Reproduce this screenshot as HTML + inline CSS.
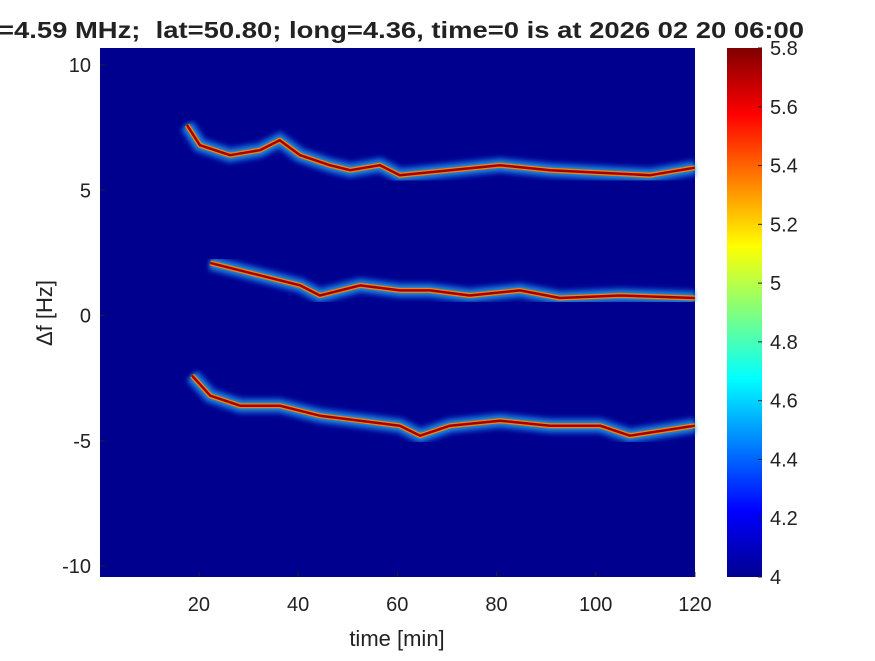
<!DOCTYPE html>
<html><head><meta charset="utf-8">
<style>
body{margin:0;background:#fff;width:875px;height:656px;overflow:hidden;font-family:"Liberation Sans",Arial,sans-serif}
svg text{font-family:"Liberation Sans",Arial,sans-serif}
</style></head>
<body>
<svg id="chart" width="875" height="656">
<defs>
<linearGradient id="jet" x1="0" y1="1" x2="0" y2="0">
<stop offset="0" stop-color="#00008f"/>
<stop offset="0.125" stop-color="#0000ff"/>
<stop offset="0.375" stop-color="#00ffff"/>
<stop offset="0.625" stop-color="#ffff00"/>
<stop offset="0.875" stop-color="#ff0000"/>
<stop offset="1" stop-color="#800000"/>
</linearGradient>
<filter id="blur"><feGaussianBlur stdDeviation="2.5"/></filter>
</defs>
<text x="-2" y="38" font-size="23" font-weight="bold" fill="#222" textLength="806" lengthAdjust="spacingAndGlyphs" xml:space="preserve">=4.59 MHz;  lat=50.80; long=4.36, time=0 is at 2026 02 20 06:00</text>
<rect x="100" y="48" width="595" height="529" fill="#00008f"/>
<g id="traces"></g>
<g id="axes"></g>
<rect x="727" y="48" width="35" height="529" fill="url(#jet)"/>
<g id="cbaxis"></g>
<text x="397" y="646" font-size="22" text-anchor="middle" fill="#222">time [min]</text>
<text transform="translate(52,313) rotate(-90)" font-size="22" text-anchor="middle" fill="#222">Δf [Hz]</text>
</svg>
<script>
const topTime=[17.6,20.2,26.3,32.3,36.3,40.4,46.4,50.5,56.5,60.5,70.6,80.7,90.8,100.9,111,120];
const topFreq=[7.6,6.8,6.4,6.6,7.0,6.4,6.0,5.8,6.0,5.6,5.8,6.0,5.8,5.7,5.6,5.9];
const midTime=[22.3,30.3,40.4,44.4,52.5,60.5,66.6,74.6,84.7,92.8,104.9,120];
const midFreq=[2.1,1.7,1.2,0.8,1.2,1.0,1.0,0.8,1.0,0.7,0.8,0.7];
const botTime=[18.6,22.3,28.3,36.3,44.4,52.5,60.5,64.6,70.6,80.7,90.8,100.9,106.9,120];
const botFreq=[-2.4,-3.2,-3.6,-3.6,-4.0,-4.2,-4.4,-4.8,-4.4,-4.2,-4.4,-4.4,-4.8,-4.4];
const xTicks=[20,40,60,80,100,120];
const yTicks=[10,5,0,-5,-10];
const cbTicks=[4,4.2,4.4,4.6,4.8,5,5.2,5.4,5.6,5.8];
const X=t=>99.7+t*4.96;
const Y=f=>315.5-f*25.05;
const CB=v=>577-(v-4)/1.8*529;
const NS="http://www.w3.org/2000/svg";
function mk(tag,attrs,parent){const e=document.createElementNS(NS,tag);for(const k in attrs)e.setAttribute(k,attrs[k]);parent.appendChild(e);return e;}
const tg=document.getElementById('traces');
[[topTime,topFreq,'trace-upper'],[midTime,midFreq,'trace-middle'],[botTime,botFreq,'trace-lower']].forEach(([ts,fs,name])=>{
  const pts=ts.map((t,i)=>X(t).toFixed(1)+','+Y(fs[i]).toFixed(1)).join(' ');
  const g=mk('g',{},tg);
  
  
  mk('polyline',{points:pts,fill:'none',stroke:'#1e90ff',"stroke-width":16,opacity:0.55,filter:'url(#blur)'},g);
  mk('polyline',{points:pts,fill:'none',stroke:'#40e0d0',"stroke-width":7,opacity:0.6,filter:'url(#blur)'},g);
  mk('polyline',{points:pts,fill:'none',stroke:'#ff8000',"stroke-width":5,"stroke-linejoin":"round"},g);
  mk('polyline',{points:pts,fill:'none',stroke:'#a00000',"stroke-width":2.5,"stroke-linejoin":"round"},g);
});
const ag=document.getElementById('axes');
xTicks.forEach(t=>{
  const l=mk('line',{x1:X(t),x2:X(t),y1:577,y2:572,stroke:'#222'},ag);
  
  
  const tx=mk('text',{x:X(t),y:611,"font-size":20,"text-anchor":"middle",fill:'#222'},ag);
  tx.textContent=t;
  
  
});
yTicks.forEach(f=>{
  mk('line',{x1:100,x2:105,y1:Y(f),y2:Y(f),stroke:'#222'},ag);
  const tx=mk('text',{x:91,y:Y(f)+7,"font-size":20,"text-anchor":"end",fill:'#222'},ag);
  tx.textContent=f;
  
  
});
const cg=document.getElementById('cbaxis');
cbTicks.forEach(v=>{
  mk('line',{x1:758,x2:762,y1:CB(v),y2:CB(v),stroke:'#222'},cg);
  const tx=mk('text',{x:770,y:CB(v)+7,"font-size":20,fill:'#222'},cg);
  tx.textContent=v;
  
  
});
</script>
</body></html>
